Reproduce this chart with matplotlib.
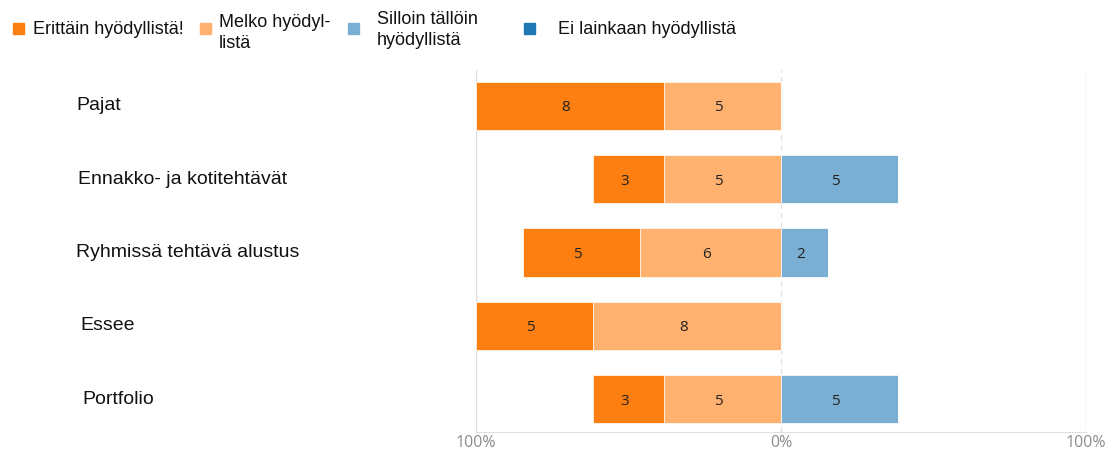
import matplotlib
matplotlib.use("Agg")
import matplotlib.pyplot as plt
from matplotlib.patches import Rectangle
import numpy as np

categories = ["Pajat", "Ennakko- ja kotitehtävät", "Ryhmissä tehtävä alustus", "Essee", "Portfolio"]
erittain = [8, 3, 5, 5, 3]
melko = [5, 5, 6, 8, 5]
silloin = [0, 5, 2, 0, 5]
ei_lainkaan = [0, 0, 0, 0, 0]
series_labels = ["Erittäin hyödyllistä!", "Melko hyödyl-\nlistä", "Silloin tällöin\nhyödyllistä", "Ei lainkaan hyödyllistä"]
colors = ["#fd7f11", "#ffb170", "#7aaed3", "#1f77b4"]
scale_max = 13
tick_labels = ["100%", "0%", "100%"]

W, H = 1114, 453
fig = plt.figure(figsize=(W / 100, H / 100), dpi=100)
plt.rcParams['font.family'] = ['Liberation Sans', 'DejaVu Sans']
ax = fig.add_axes([476 / W, (H - 432) / H, (1086 - 476) / W, (432 - 70) / H])

y = np.arange(len(categories))
e = np.array(erittain); m = np.array(melko); s = np.array(silloin); n = np.array(ei_lainkaan)
bh = 0.66
b1 = ax.barh(y, -m, left=0, height=bh, color=colors[1], edgecolor="white", linewidth=0.5)
b0 = ax.barh(y, -e, left=-m, height=bh, color=colors[0], edgecolor="white", linewidth=0.5)
b2 = ax.barh(y, s, left=0, height=bh, color=colors[2], edgecolor="white", linewidth=0.5)
b3 = ax.barh(y, n, left=s, height=bh, color=colors[3], edgecolor="white", linewidth=0.5)

for bars, vals in [(b0, e), (b1, m), (b2, s), (b3, n)]:
    for rect, v in zip(bars, vals):
        if v > 0:
            cx = rect.get_x() + rect.get_width() / 2
            cy = rect.get_y() + rect.get_height() / 2
            ax.annotate(str(v), xy=(cx, cy), xytext=(-4, -2), textcoords="offset pixels",
                        ha="center", va="center", fontsize=11,
                        color="#222222", family=["Open Sans", "DejaVu Sans"])

ax.set_xlim(-scale_max, scale_max)
ax.set_ylim(len(categories) - 0.55, -0.49)
ax.set_xticks([-scale_max, 0, scale_max])
ax.set_xticklabels(tick_labels, color="#8c8c8c", fontsize=11.5, family=["Open Sans", "DejaVu Sans"])
ax.tick_params(axis="x", length=0, pad=2)
ax.set_yticks([])
for side in ["top", "left", "right"]:
    ax.spines[side].set_visible(False)
ax.spines["bottom"].set_color("#e0e0e0")
ax.axvline(-scale_max, color="#dcdcdc", lw=1, zorder=0)
ax.axvline(scale_max, color="#dcdcdc", lw=1, zorder=0)
ax.axvline(0, color="#e4e4e4", lw=1, ls=(0, (4, 3)), zorder=0)

label_x = [76, 78, 76, 80, 82]
for i, (cat, lx) in enumerate(zip(categories, label_x)):
    ax.annotate(cat, xy=(lx / W, i), xycoords=("figure fraction", "data"),
                ha="left", va="center", fontsize=14, color="#111111")

# legend
leg_sq_x = [13, 200, 348, 524]
leg_tx_x = [33, 219, 377, 558]
leg_tx_y = [29, 33, 30, 29]
for lab, col, sx, tx, ty in zip(series_labels, colors, leg_sq_x, leg_tx_x, leg_tx_y):
    fig.patches.append(Rectangle((sx / W, (H - 34) / H), 11 / W, 11 / H,
                                 transform=fig.transFigure, color=col))
    fig.text(tx / W, (H - ty) / H, lab, ha="left", va="center", fontsize=13,
             color="#111111", linespacing=1.35)

fig.savefig("out.png", dpi=100, facecolor="white")
